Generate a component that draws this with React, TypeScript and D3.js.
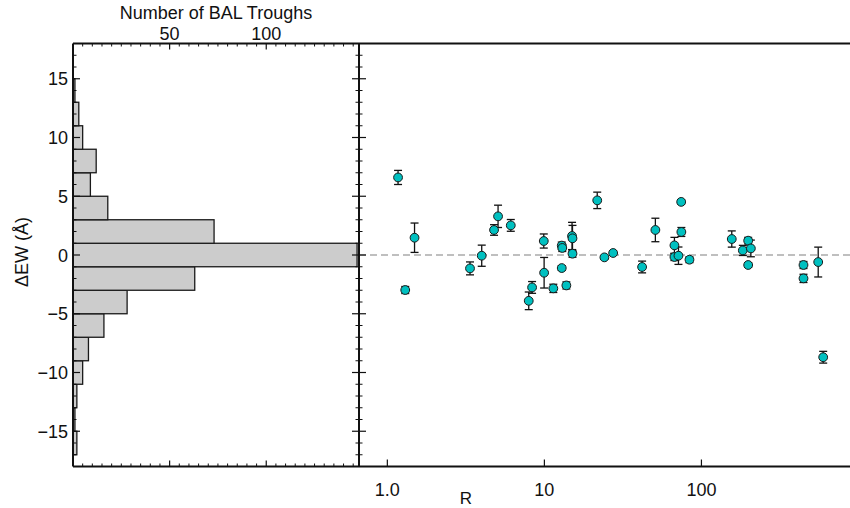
import React from "react";
import * as d3 from "d3";

// Histogram of ΔEW (bin width 2 Å)
const binCenters = [-16, -14, -12, -10, -8, -6, -4, -2, 0, 2, 4, 6, 8, 10, 12, 14];
const binCounts = [2, 1, 2, 5, 8, 16, 28, 63, 147, 73, 18, 9, 12, 5, 3, 1];
const binWidth = 2;

// Scatter: R vs ΔEW with errors
const rValues = [1.17, 1.3, 1.49, 3.36, 3.99, 4.78, 5.07, 6.11, 7.95, 8.35, 9.91, 9.96, 11.4, 12.9, 13.0, 12.9, 13.8, 15.0, 15.1, 15.1, 21.7, 24.1, 27.4, 41.9, 50.9, 67.3, 67.3, 71.4, 74.3, 74.5, 83.9, 156, 183.5, 198.4, 198.4, 206.4, 446.5, 446.5, 554, 596];
const dEW = [6.6, -2.98, 1.47, -1.14, -0.06, 2.13, 3.29, 2.52, -3.9, -2.76, 1.19, -1.51, -2.84, 0.8, 0.6, -1.11, -2.59, 1.62, 1.42, 0.11, 4.65, -0.2, 0.17, -1.02, 2.13, 0.82, -0.17, -0.06, 4.52, 1.96, -0.4, 1.36, 0.39, 1.22, -0.85, 0.56, -0.85, -1.99, -0.6, -8.7];
const dEWErr = [0.6, 0.3, 1.25, 0.55, 0.9, 0.45, 0.95, 0.5, 0.75, 0.5, 0.6, 1.3, 0.35, 0.3, 0.3, 0.2, 0.3, 1.16, 1.1, 0.3, 0.7, 0.15, 0.15, 0.5, 1.0, 0.68, 0.3, 0.74, 0.15, 0.38, 0.25, 0.69, 0.43, 0.28, 0.2, 0.71, 0.3, 0.35, 1.27, 0.5];

const yTicksMajor = [-15, -10, -5, 0, 5, 10, 15];
const countTicksMajor = [50, 100];
const rTicks = [1, 10, 100];
const rTickLabels = ["1.0", "10", "100"];

const W = 850;
const H = 508;
const FONT = "'Liberation Sans', Arial, Helvetica, sans-serif";

export default function App() {
  const histL = 73;
  const midX = 359;
  const rightX = 850;
  const top = 43.5;
  const bottom = 466.5;

  const y = d3.scaleLinear().domain([-18, 18]).range([bottom, top]);
  const xc = d3.scaleLinear().domain([0, 148]).range([histL, midX]);
  const xr = d3.scaleLog().domain([0.66, 883]).range([midX, rightX]);

  const minorY = d3.range(-17, 18, 1).filter((v) => v % 5 !== 0);
  const minorC = d3.range(5, 148, 5).filter((v) => v % 50 !== 0);

  const fmt = (v: number) => (v < 0 ? "\u2212" + Math.abs(v) : String(v));
  const axisColor = "#111";

  return (
    <svg
      width={W}
      height={H}
      style={{ position: "absolute", left: 0, top: 0, background: "#fff" }}
      fontFamily={FONT}
    >
      <rect x={0} y={0} width={W} height={H} fill="#fff" />

      {/* Histogram bars */}
      {binCenters.map((c, i) => (
        <rect
          key={"b" + i}
          x={xc(0)}
          y={y(c + binWidth / 2)}
          width={xc(binCounts[i]) - xc(0)}
          height={y(c - binWidth / 2) - y(c + binWidth / 2)}
          fill="#cccccc"
          stroke="#1a1a1a"
          strokeWidth={1.3}
        />
      ))}

      {/* zero dashed line */}
      <line
        x1={midX}
        x2={rightX}
        y1={y(0)}
        y2={y(0)}
        stroke="#808080"
        strokeWidth={1.2}
        strokeDasharray="7,4"
      />

      {/* error bars */}
      {rValues.map((r, i) => {
        const px = xr(r);
        const y1 = y(dEW[i] + dEWErr[i]);
        const y2 = y(dEW[i] - dEWErr[i]);
        return (
          <g key={"e" + i} stroke="#111" strokeWidth={1.3}>
            <line x1={px} x2={px} y1={y1} y2={y2} />
            <line x1={px - 4} x2={px + 4} y1={y1} y2={y1} />
            <line x1={px - 4} x2={px + 4} y1={y2} y2={y2} />
          </g>
        );
      })}
      {/* points */}
      {rValues.map((r, i) => (
        <circle
          key={"p" + i}
          cx={xr(r)}
          cy={y(dEW[i])}
          r={4.4}
          fill="#00c0c0"
          stroke="#1a1a1a"
          strokeWidth={1}
        />
      ))}

      {/* frame lines */}
      <line x1={histL} x2={rightX} y1={top} y2={top} stroke={axisColor} strokeWidth={2} />
      <line x1={histL} x2={rightX} y1={bottom} y2={bottom} stroke={axisColor} strokeWidth={2} />
      <line x1={histL} x2={histL} y1={top} y2={bottom} stroke={axisColor} strokeWidth={2} />
      <line x1={midX} x2={midX} y1={top} y2={bottom} stroke={axisColor} strokeWidth={2} />

      {/* y ticks: left axis of histogram, both sides of middle axis */}
      {yTicksMajor.map((v) => (
        <g key={"ym" + v} stroke={axisColor} strokeWidth={1.2}>
          <line x1={histL} x2={histL + 7} y1={y(v)} y2={y(v)} />
          <line x1={midX - 7} x2={midX + 7} y1={y(v)} y2={y(v)} />
        </g>
      ))}
      {minorY.map((v) => (
        <g key={"yn" + v} stroke={axisColor} strokeWidth={1}>
          <line x1={histL} x2={histL + 3.5} y1={y(v)} y2={y(v)} />
          <line x1={midX - 3.5} x2={midX + 3.5} y1={y(v)} y2={y(v)} />
        </g>
      ))}
      {yTicksMajor.map((v) => (
        <text
          key={"yl" + v}
          x={68}
          y={y(v) + 6.5}
          textAnchor="end"
          fontSize={18}
          fill="#111"
        >
          {fmt(v)}
        </text>
      ))}

      {/* count axis ticks (top & bottom of histogram) */}
      {countTicksMajor.map((v) => (
        <g key={"cm" + v} stroke={axisColor} strokeWidth={1.2}>
          <line x1={xc(v)} x2={xc(v)} y1={top} y2={top + 6} />
          <line x1={xc(v)} x2={xc(v)} y1={bottom} y2={bottom - 6} />
        </g>
      ))}
      {minorC.map((v) => (
        <g key={"cn" + v} stroke={axisColor} strokeWidth={1}>
          <line x1={xc(v)} x2={xc(v)} y1={top} y2={top + 3} />
          <line x1={xc(v)} x2={xc(v)} y1={bottom} y2={bottom - 3} />
        </g>
      ))}
      {countTicksMajor.map((v) => (
        <text key={"cl" + v} x={xc(v)} y={40} textAnchor="middle" fontSize={18} fill="#111">
          {v}
        </text>
      ))}
      <text x={(histL + midX) / 2} y={19} textAnchor="middle" fontSize={18} fill="#111">
        Number of BAL Troughs
      </text>

      {/* R axis ticks */}
      {rTicks.map((v, i) => (
        <g key={"r" + v}>
          <line x1={xr(v)} x2={xr(v)} y1={bottom} y2={bottom - 7} stroke={axisColor} strokeWidth={1.2} />
          <text x={xr(v)} y={496} textAnchor="middle" fontSize={18} fill="#111">
            {rTickLabels[i]}
          </text>
        </g>
      ))}
      <text x={466} y={504} textAnchor="middle" fontSize={17} fill="#111">
        R
      </text>

      {/* y label */}
      <text
        transform={`translate(28, ${y(0) - 3}) rotate(-90)`}
        textAnchor="middle"
        fontSize={18}
        fill="#111"
      >
        ΔEW (Å)
      </text>
    </svg>
  );
}
